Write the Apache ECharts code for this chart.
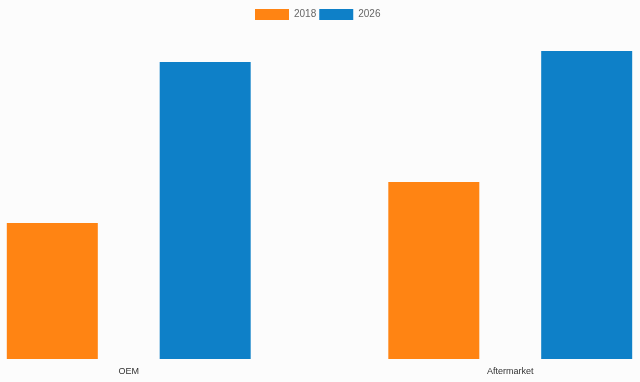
<!DOCTYPE html>
<html><head><meta charset="utf-8">
<script src="https://cdn.jsdelivr.net/npm/echarts@6/dist/echarts.min.js"></script>
<style>html,body{margin:0;padding:0;background:#fcfcfc;overflow:hidden}#c{width:763px;height:382px;margin-left:-62px}</style>
</head><body><div id="c"></div>
<script>
const categories = ['OEM', 'Aftermarket'];
const seriesNames = ['2018', '2026'];
const values2018 = [136, 177];
const values2026 = [297, 308];

const chart = echarts.init(document.getElementById('c'));
chart.setOption({
  backgroundColor: '#fcfcfc',
  animation: false,
  legend: {
    top: 4, left: 312,
    icon: 'rect',
    itemWidth: 34, itemHeight: 11, itemGap: 3,
    textStyle: {color: '#666', fontSize: 10, fontFamily: 'Liberation Sans'},
    data: seriesNames
  },
  grid: {left: 0, right: 0, top: 39, bottom: 23, containLabel: false},
  xAxis: {
    type: 'category', data: categories,
    axisLine: {show: false}, axisTick: {show: false},
    axisLabel: {color: '#333', fontSize: 9, fontFamily: 'Liberation Sans', margin: 8}
  },
  yAxis: {type: 'value', min: 0, max: 320, show: false, splitLine: {show: false}},
  series: [
    {name: seriesNames[0], type: 'bar', data: values2018, barWidth: 91, barGap: '68%', itemStyle: {color: '#ff8413'}},
    {name: seriesNames[1], type: 'bar', data: values2026, barWidth: 91, itemStyle: {color: '#0e80c8'}}
  ]
});
</script></body></html>
